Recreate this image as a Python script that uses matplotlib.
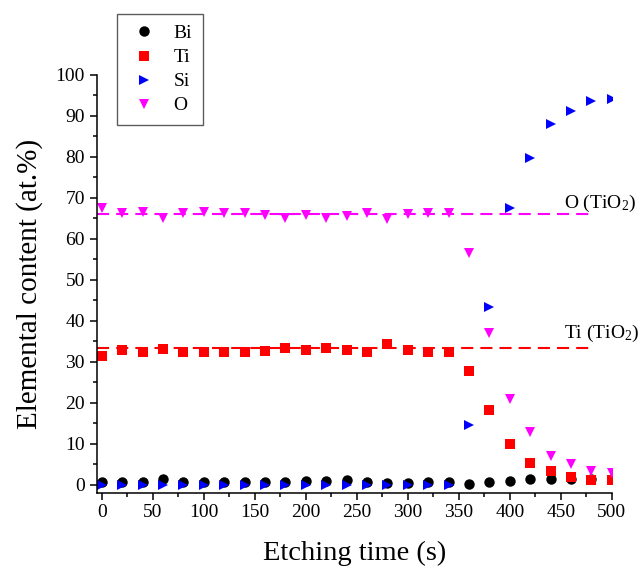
import matplotlib
matplotlib.use("Agg")
import matplotlib.pyplot as plt
from matplotlib.ticker import MultipleLocator

plt.rcParams["font.family"] = ["Liberation Serif", "DejaVu Serif"]
plt.rcParams["mathtext.fontset"] = "custom"
plt.rcParams["mathtext.rm"] = "Liberation Serif"
plt.rcParams["mathtext.it"] = "Liberation Serif:italic"

# Depth profile: etching time (s) vs. elemental content (at.%)
time_s = [0, 20, 40, 60, 80, 100, 120, 140, 160, 180, 200, 220, 240,
          260, 280, 300, 320, 340, 360, 380, 400, 420, 440, 460, 480, 500]
bi = [0.6, 0.6, 0.7, 1.5, 0.8, 0.8, 0.8, 0.8, 0.8, 0.8, 1.0, 1.0, 1.1,
      0.7, 0.5, 0.5, 0.6, 0.6, 0.2, 0.6, 1.0, 1.4, 1.4, 1.4, 1.4, 1.4]
ti = [31.5, 32.8, 32.3, 33.2, 32.4, 32.3, 32.3, 32.4, 32.7, 33.5, 32.8, 33.3, 33.0,
      32.5, 34.4, 32.8, 32.4, 32.5, 27.9, 18.3, 10.0, 5.4, 3.4, 2.0, 1.2, 1.2]
si = [0.0, 0.0, 0.0, 0.0, 0.0, 0.0, 0.0, 0.0, 0.0, 0.0, 0.0, 0.0, 0.0,
      0.0, 0.0, 0.0, 0.0, 0.0, 14.6, 43.5, 67.5, 79.8, 88.0, 91.1, 93.7, 94.1]
o = [67.5, 66.3, 66.5, 65.1, 66.3, 66.5, 66.4, 66.3, 65.9, 65.2, 65.8, 65.2, 65.6,
     66.4, 64.8, 66.1, 66.4, 66.3, 56.5, 37.1, 20.9, 13.0, 7.1, 5.1, 3.4, 2.8]

# Stoichiometric reference levels for TiO2
ref_x = [-5, 480]
ti_ref = 33.5
o_ref = 66.0

fig = plt.figure(figsize=(6.44, 5.68), dpi=100)
ax = fig.add_axes([0.150, 0.1326, 0.800, 0.7354])

ax.plot(ref_x, [o_ref, o_ref], color="#ff00ff", lw=1.5,
        linestyle=(0, (5.8, 3.4)), zorder=1.5)
ax.plot(ref_x, [ti_ref, ti_ref], color="#ff0000", lw=1.5,
        linestyle=(0, (5.8, 3.4)), zorder=1.5)

ax.plot(time_s, bi, "o", color="black", ms=7.5, mew=0, label="Bi")
ax.plot(time_s, ti, "s", color="#ff0000", ms=6.8, mew=0, label="Ti")
ax.plot(time_s, si, ">", color="#0000ff", ms=7.8, mew=0, label="Si")
ax.plot(time_s, o, "v", color="#ff00ff", ms=7.8, mew=0, label="O")

ax.text(453, 68.6, r"O (TiO$_\mathregular{2}$)", fontsize=14, va="center", ha="left")
ax.text(453, 36.9, r"Ti (TiO$_\mathregular{2}$)", fontsize=14, va="center", ha="left")

ax.set_xlim(-5, 500)
ax.set_ylim(-1.9, 100)
ax.xaxis.set_major_locator(MultipleLocator(50))
ax.xaxis.set_minor_locator(MultipleLocator(25))
ax.yaxis.set_major_locator(MultipleLocator(10))
ax.yaxis.set_minor_locator(MultipleLocator(5))
ax.tick_params(which="both", direction="out", width=1.1, labelsize=14)
ax.tick_params(which="major", length=5)
ax.tick_params(which="minor", length=3)
for side in ("top", "right"):
    ax.spines[side].set_visible(False)
for side in ("left", "bottom"):
    ax.spines[side].set_linewidth(1.1)

ax.set_xlabel("Etching time (s)", fontsize=20.5, labelpad=14)
ax.set_ylabel("Elemental content (at.%)", fontsize=21, labelpad=9)

leg = fig.legend(loc="upper left", bbox_to_anchor=(117 / 644, 1 - 14 / 568),
                 fontsize=14, frameon=True, fancybox=False, borderaxespad=0,
                 handletextpad=0.65, labelspacing=0.33, borderpad=0.55,
                 handlelength=1.7)
leg.get_frame().set_edgecolor("#333333")
leg.get_frame().set_linewidth(1.0)

fig.savefig("out.png", dpi=100)
